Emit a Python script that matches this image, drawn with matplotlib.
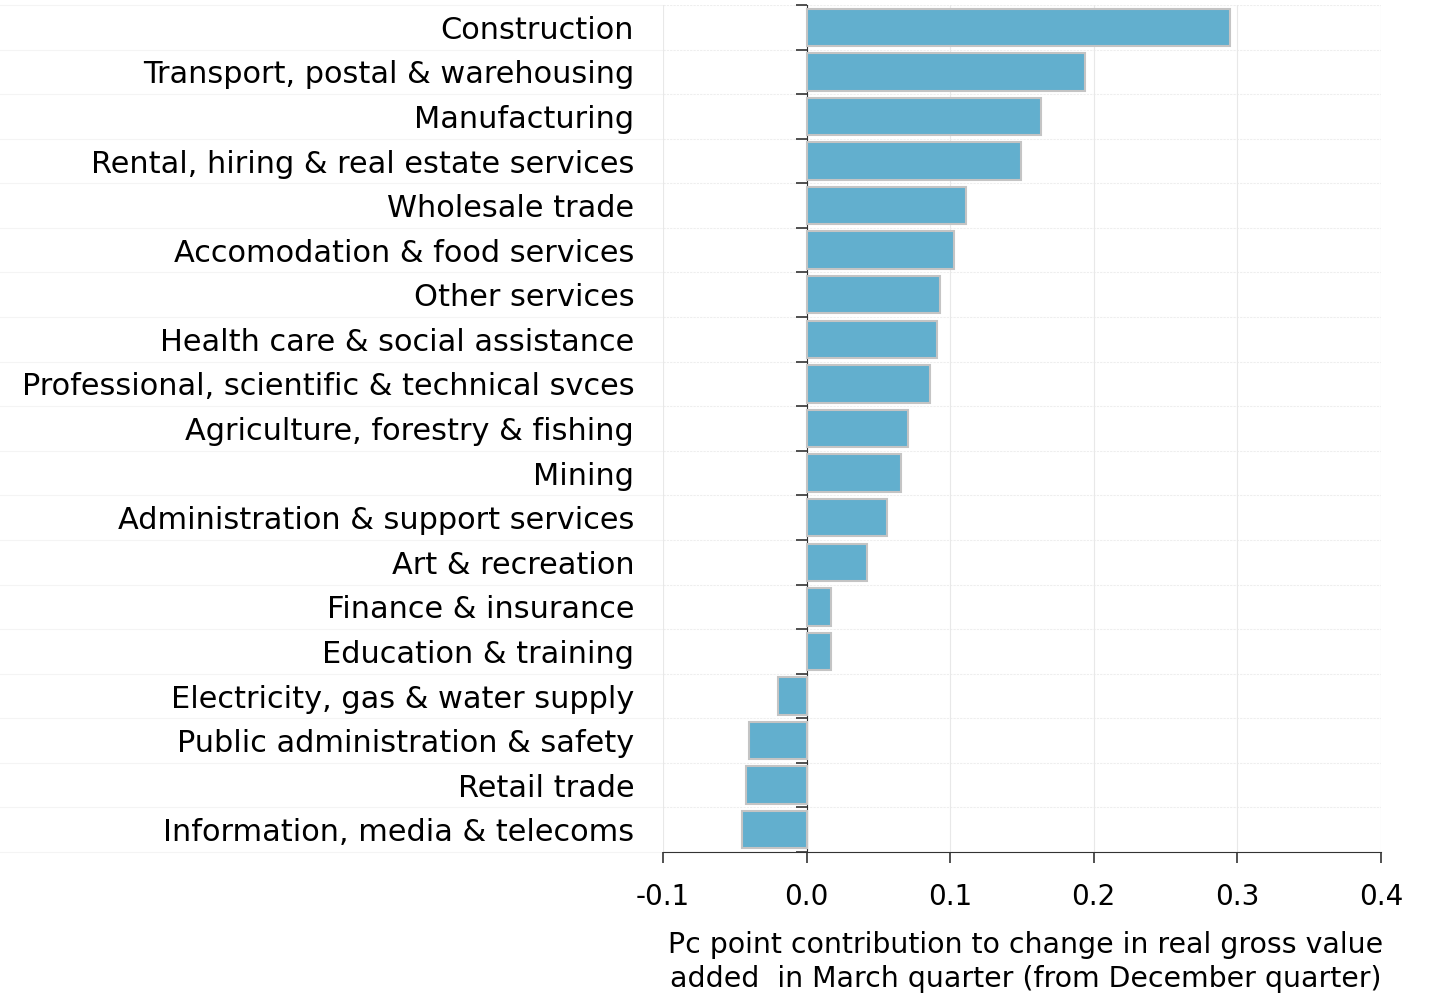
import numpy as np
import matplotlib.pyplot as plt
from matplotlib.transforms import blended_transform_factory

plt.rcParams['font.family'] = ['DejaVu Sans']

industries = ["Construction", "Transport, postal & warehousing", "Manufacturing",
              "Rental, hiring & real estate services", "Wholesale trade",
              "Accomodation & food services", "Other services",
              "Health care & social assistance",
              "Professional, scientific & technical svces",
              "Agriculture, forestry & fishing", "Mining",
              "Administration & support services", "Art & recreation",
              "Finance & insurance", "Education & training",
              "Electricity, gas & water supply", "Public administration & safety",
              "Retail trade", "Information, media & telecoms"]
contrib = [0.295, 0.194, 0.163, 0.149, 0.111, 0.103, 0.093, 0.091, 0.086,
           0.071, 0.066, 0.056, 0.042, 0.017, 0.017, -0.020, -0.040, -0.042, -0.045]
xticks = [-0.1, 0.0, 0.1, 0.2, 0.3, 0.4]

fig = plt.figure(figsize=(14.34, 9.97), dpi=100)
ax = fig.add_axes([0.4623, 0.1454, 0.5007, 0.8496])

n = len(industries)
ypos = np.arange(n)[::-1]
ax.barh(ypos, contrib, height=0.84, color='#62afce', edgecolor='#c4c4c4', linewidth=1.5, zorder=3)

ax.set_xlim(-0.1, 0.4)
ax.set_ylim(-0.5, n - 0.5)

# grid: vertical at ticks, horizontal at category boundaries
bounds = np.arange(n + 1) - 0.5
ax.set_xticks(xticks)
ax.set_xticklabels([f"{t:.1f}" for t in xticks], fontsize=20)
ax.xaxis.grid(True, color='#e8e8e8', linewidth=0.8, zorder=0)
for b in bounds:
    ax.axhline(b, color='#eeeeee', linewidth=0.8, linestyle=(0, (2, 1)), zorder=0)
    ax.plot([-1.3, 0], [b, b], transform=blended_transform_factory(ax.transAxes, ax.transData),
            color='#f4f4f4', linewidth=0.8, clip_on=False, zorder=0)

for s in ['top', 'right']:
    ax.spines[s].set_visible(False)
ax.spines['left'].set_position(('data', 0))
ax.spines['left'].set_color('#333333')
ax.spines['bottom'].set_color('#333333')
ax.set_yticks(bounds)
ax.set_yticklabels([])
ax.tick_params(axis='y', length=8, width=1.2, color='#333333', direction='out')
ax.tick_params(axis='x', length=8, width=1.2, color='#333333', direction='out', pad=14)

trans = blended_transform_factory(ax.transAxes, ax.transData)
for y, lab in zip(ypos, industries):
    ax.text(-0.04, y, lab, transform=trans, ha='right', va='center_baseline', fontsize=21.9)

ax.set_xlabel("Pc point contribution to change in real gross value\nadded  in March quarter (from December quarter)",
              fontsize=20.4, linespacing=1.3)
ax.xaxis.set_label_coords(0.5056, -0.093, transform=ax.transAxes)
ax.xaxis.label.set_va('top')

fig.savefig('out.png', dpi=100)
